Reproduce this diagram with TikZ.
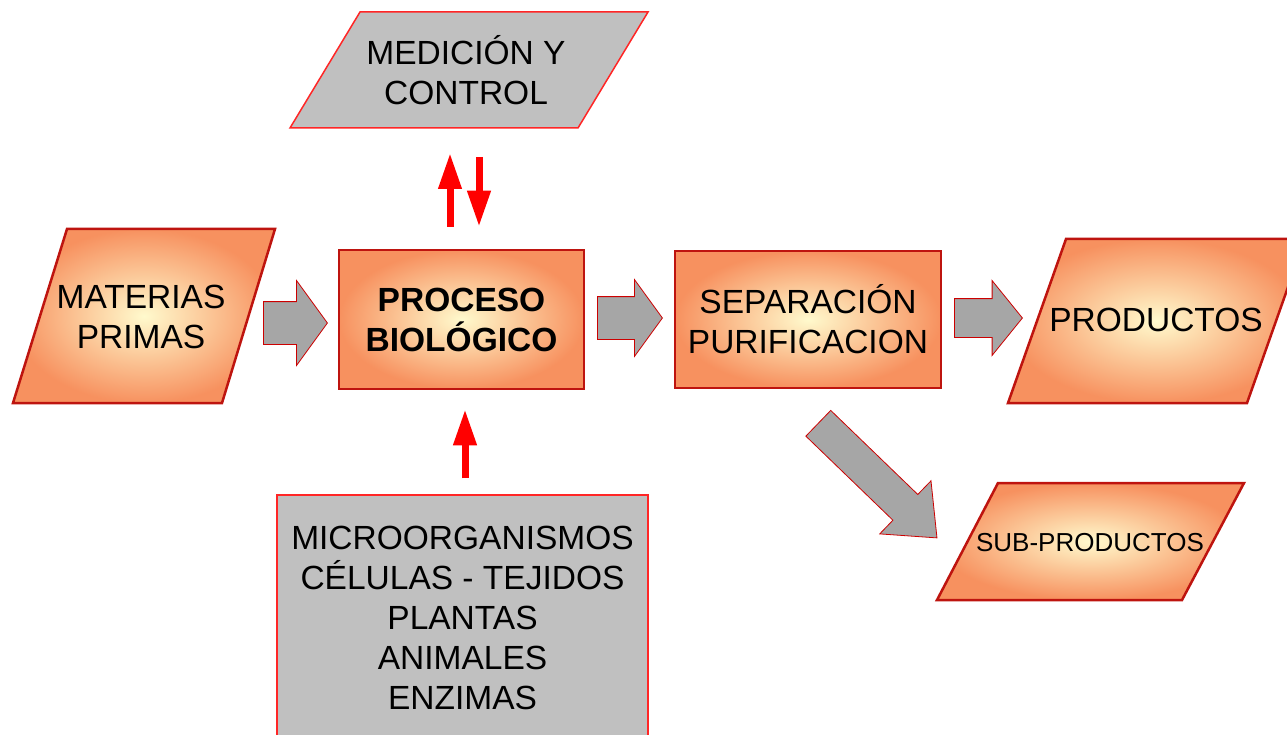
\documentclass[tikz,border=0pt]{standalone}
\usepackage{fontspec}
\setmainfont{Liberation Sans}
\usetikzlibrary{shapes.arrows,arrows.meta}

\definecolor{boxred}{RGB}{190,20,15}
\definecolor{warmedge}{RGB}{247,145,95}
\definecolor{warmcore}{RGB}{255,250,205}
\definecolor{boxgray}{RGB}{192,192,192}
\definecolor{arrowgray}{RGB}{166,166,166}

\begin{document}
\begin{tikzpicture}[x=1pt, y=-1pt, font=\fontsize{33.5}{40}\selectfont,
  warm node/.style={draw=boxred, line width=2.5pt, shade, inner color=warmcore, outer color=warmedge, align=center},
  warm shape/.style={draw=boxred, line width=2.5pt, shade, inner color=warmcore, outer color=warmedge},
  gray node/.style={draw=red!85!white, line width=1.5pt, fill=boxgray, align=center},
  gray shape/.style={draw=red!85!white, line width=1.5pt, fill=boxgray},
  label text/.style={align=center, inner sep=0pt},
  block arrow/.style={single arrow, draw=red!80!black, line width=0.8pt, fill=arrowgray, inner xsep=0pt, single arrow head indent=0pt, anchor=tail},
  thin arrow/.style={red, line width=7pt, -{Triangle[length=36pt, width=22pt]}}]
\useasboundingbox (0,0) rectangle (1287,735);
\path[warm shape] (13,403) -- (67,229) -- (275,229) -- (222,403) -- cycle;
\node[label text] (mp) at (141,317) {MATERIAS\\PRIMAS};
\node[warm node, minimum width=245, minimum height=139, font=\fontsize{33.5}{40}\selectfont\bfseries] (pb) at (461.5,319.5) {PROCESO\\BIOLÓGICO};
\node[warm node, minimum width=266, minimum height=137] (sp) at (808,319.5) {SEPARACIÓN\\PURIFICACION};
\path[warm shape] (1008,403) -- (1066,239) -- (1305,239) -- (1247,403) -- cycle;
\node[label text] (pr) at (1156,320) {PRODUCTOS};
\path[warm shape] (937,600) -- (998,483) -- (1244,483) -- (1182,600) -- cycle;
\node[label text, font=\fontsize{26}{30}\selectfont] (sub) at (1090,543) {SUB-PRODUCTOS};
\path[gray shape] (290,128) -- (360,12) -- (648,12) -- (578,128) -- cycle;
\node[label text] (mc) at (466,70) {MEDICIÓN Y\\CONTROL};
\node[gray node, minimum width=371, minimum height=246] (bio) at (462.5,618) {MICROORGANISMOS\\CÉLULAS - TEJIDOS\\PLANTAS\\ANIMALES\\ENZIMAS};
\coordinate (mcup) at (450,153);
\coordinate (mcdown) at (479,157);
\node[block arrow, minimum height=64, inner ysep=21pt, single arrow head extend=21, single arrow tip angle=108] (a1) at (263,323) {};
\node[block arrow, minimum height=65, inner ysep=21pt, single arrow head extend=17, single arrow tip angle=108] (a2) at (597,318) {};
\node[block arrow, minimum height=68, inner ysep=19pt, single arrow head extend=18, single arrow tip angle=102] (a3) at (954,318) {};
\node[block arrow, minimum height=165, inner ysep=17.5pt, single arrow head extend=19, single arrow tip angle=80, rotate=-44] (a4) at (818,423) {};
\draw[thin arrow] ([xshift=-11.5pt, yshift=22pt]pb.north) -- (mcup);
\draw[thin arrow] (mcdown) -- ([xshift=17.5pt, yshift=22pt]pb.north);
\draw[thin arrow] ([xshift=2.5pt, yshift=16pt]bio.north) -- ([xshift=3.5pt, yshift=-19pt]pb.south);
\end{tikzpicture}
\end{document}
